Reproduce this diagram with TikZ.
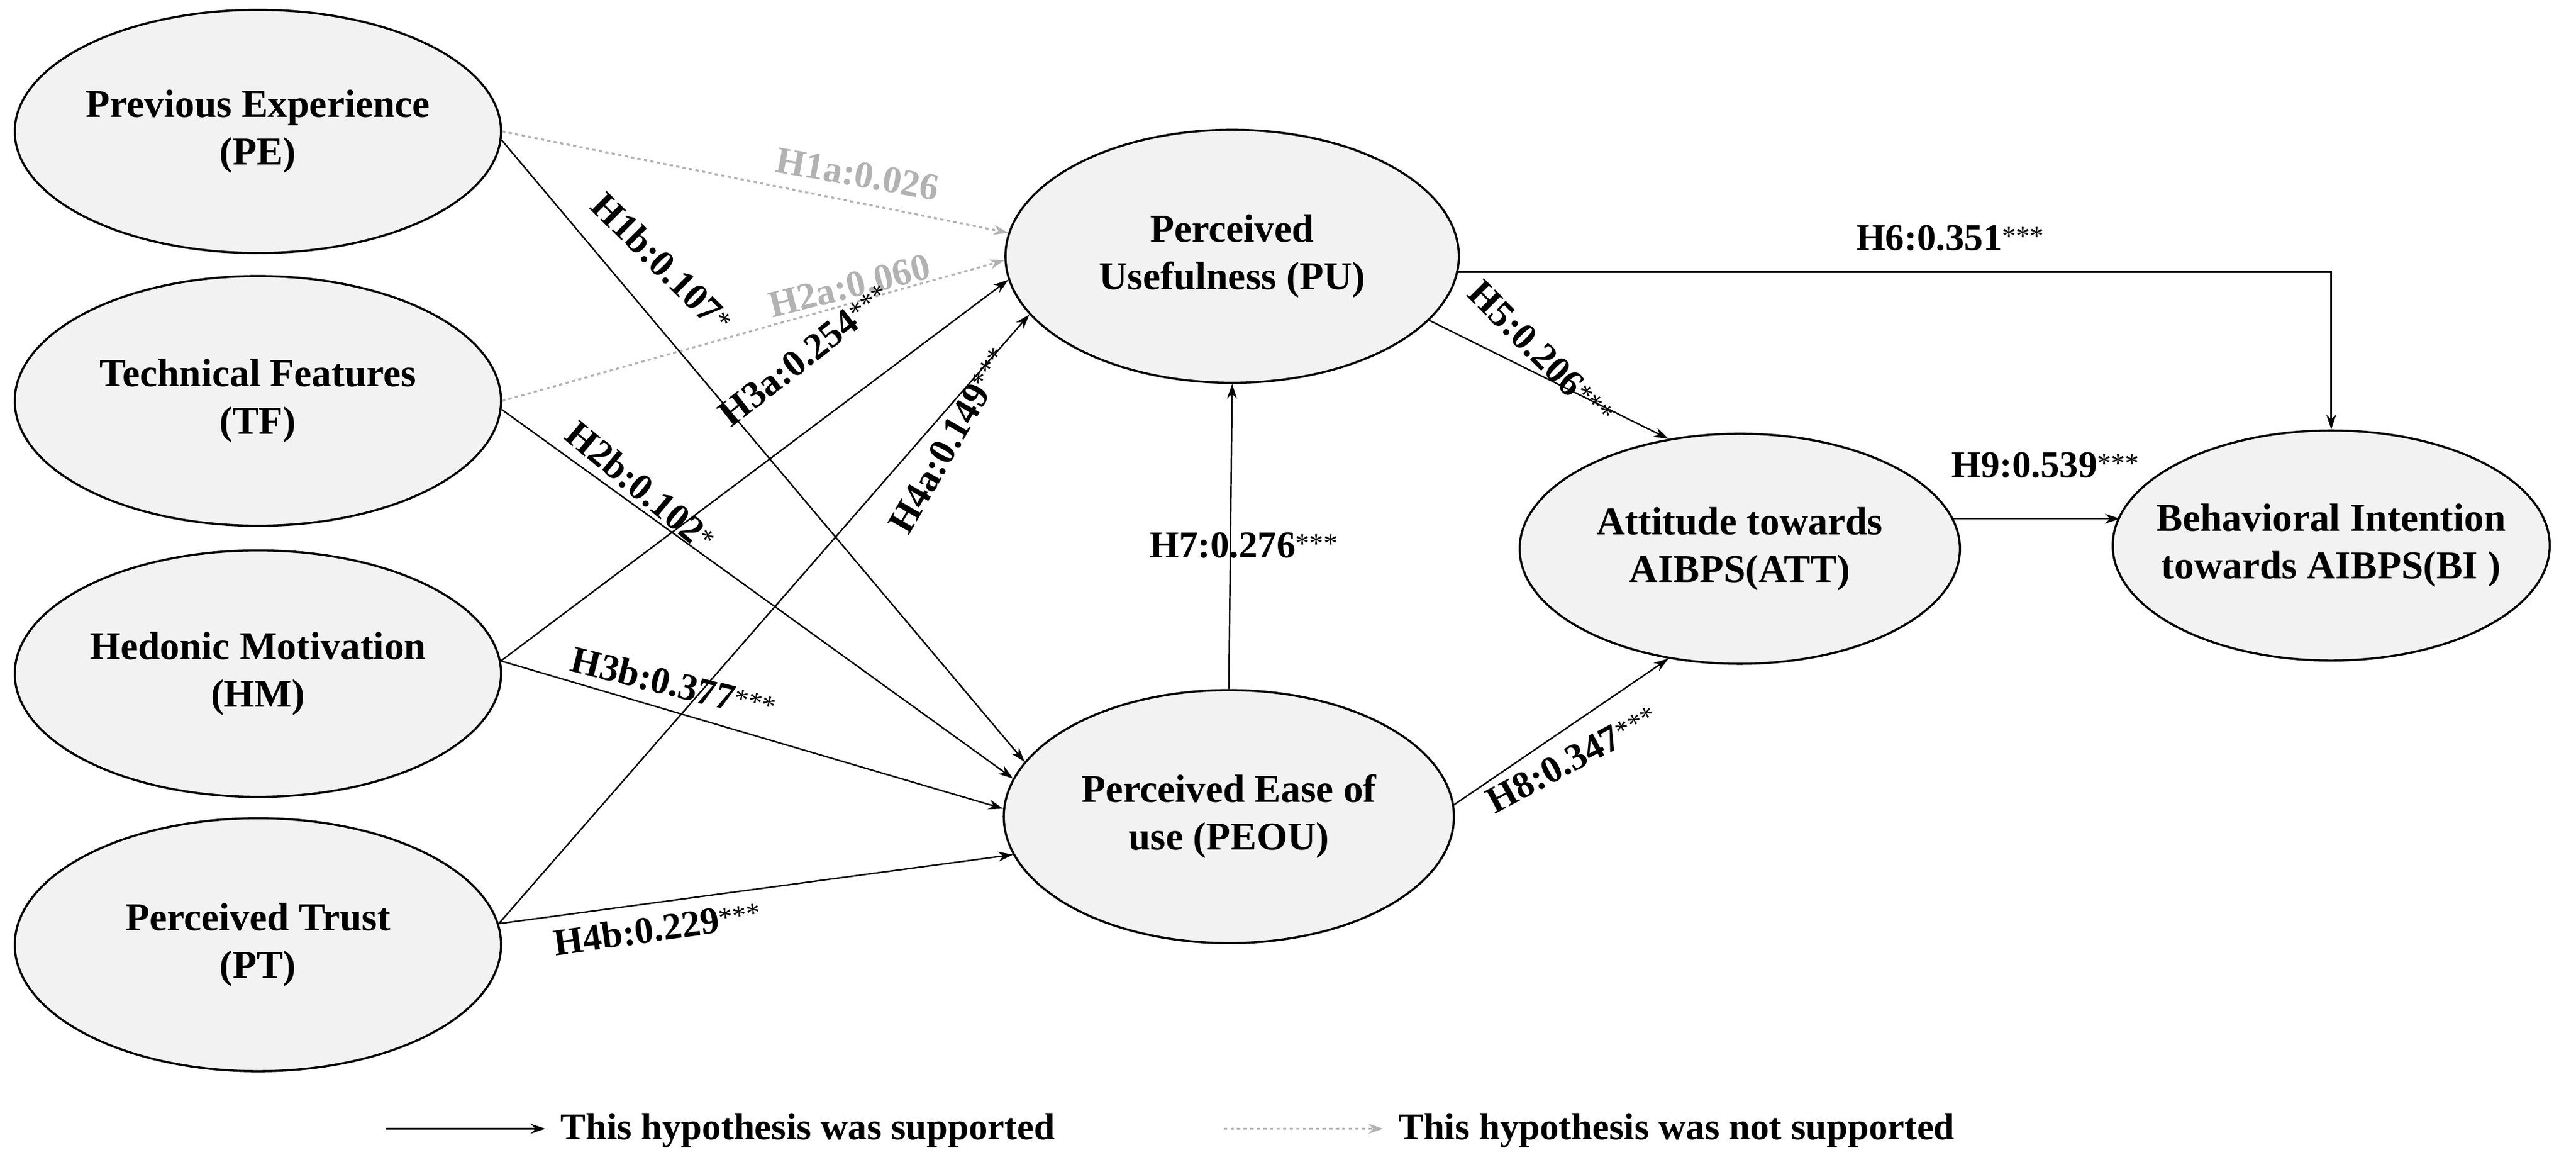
\documentclass[tikz,border=0pt]{standalone}
\usepackage{fontspec}
\setmainfont{Liberation Serif}
\usetikzlibrary{shapes.geometric,arrows.meta}
\newcommand{\st}[1]{\raisebox{3pt}{\mdseries\fontsize{17}{20}\selectfont #1}}
\newcommand{\tx}[2]{\makebox[0pt]{\begin{tabular}{@{}c@{}}#1\\#2\end{tabular}}}
\begin{document}
\begin{tikzpicture}[x=1pt,y=-1pt,
  ell/.style={ellipse,draw,line width=1.3pt,fill=gray!10,inner sep=0pt,minimum width=296pt,minimum height=148pt,font=\fontsize{24}{29}\selectfont\bfseries},
  sup/.style={-{Stealth[length=9pt,width=6pt]},line width=0.9pt},
  nsup/.style={-{Stealth[length=9pt,width=6pt]},line width=1.2pt,gray!60,dash pattern=on 2pt off 2pt},
  lab/.style={font=\fontsize{23}{27}\selectfont\bfseries,inner sep=1pt},
  glab/.style={lab,gray!60}]
\useasboundingbox (0,0) rectangle (1568,710);
\node[ell] (PE) at (157,80) {\tx{Previous Experience}{(PE)}};
\node[ell,minimum height=152pt] (TF) at (157,244) {\tx{Technical Features}{(TF)}};
\node[ell,minimum height=150pt] (HM) at (157,410) {\tx{Hedonic Motivation}{(HM)}};
\node[ell,minimum height=154pt] (PT) at (157,575) {\tx{Perceived Trust}{(PT)}};
\node[ell,minimum width=276pt,minimum height=154pt] (PU) at (750,156) {\tx{Perceived}{Usefulness (PU)}};
\node[ell,minimum width=274pt,minimum height=154pt] (PEOU) at (748,497) {\tx{Perceived Ease of}{use (PEOU)}};
\node[ell,minimum width=268pt,minimum height=140pt] (ATT) at (1059,334) {\tx{Attitude towards}{AIBPS(ATT)}};
\node[ell,minimum width=266pt,minimum height=140pt] (BI) at (1419,332) {\tx{Behavioral Intention}{towards AIBPS(BI )}};

\draw[nsup] (PE.east) -- (PU.174);
\draw[nsup] (TF.east) -- (PU.181);
\draw[sup] (PE.-2) -- (PEOU.165);
\draw[sup] (TF.-2) -- (PEOU.170);
\draw[sup] (HM.3) -- (PU.186);
\draw[sup] (HM.3) -- (PEOU.178);
\draw[sup] (PT.5) -- (PU.196);
\draw[sup] (PT.5) -- (PEOU.190);
\draw[sup] (PEOU.north) -- (PU.south);
\draw[sup] (PU.-18) -- (ATT.123);
\draw[sup] (PEOU.3) -- (ATT.237);
\draw[sup] (PU.-4) -| (BI.north);
\draw[sup,shorten >=-5pt] (ATT.8) -- (ATT.8 -| BI.west);

\node[glab,rotate=-10] (l1a) at (522,106) {H1a:0.026};
\node[glab,rotate=14] (l2a) at (517,174) {H2a:0.060};
\node[lab,rotate=-45] (l1b) at (403,160) {H1b:0.107\st{*}};
\node[lab,rotate=38] (l3a) at (490,216) {H3a:0.254\st{***}};
\node[lab,rotate=-40] (l2b) at (390,296) {H2b:0.102\st{*}};
\node[lab,rotate=60] (l4a) at (578,268) {H4a:0.149\st{***}};
\node[lab,rotate=-14] (l3b) at (410,416) {H3b:0.377\st{***}};
\node[lab,rotate=8] (l4b) at (400,565) {H4b:0.229\st{***}};
\node[lab] (l7) at (757,332) {H7:0.276\st{***}};
\node[lab,rotate=-45] (l5) at (938,215) {H5:0.206\st{***}};
\node[lab,rotate=28] (l8) at (957,462) {H8:0.347\st{***}};
\node[lab] (l6) at (1187,145) {H6:0.351\st{***}};
\node[lab] (l9) at (1245,283) {H9:0.539\st{***}};

\coordinate (a1) at (235,687); \coordinate (a2) at (332,687);
\coordinate (b1) at (745,687); \coordinate (b2) at (842,687);
\draw[sup] (a1) -- (a2);
\draw[nsup] (b1) -- (b2);
\node[lab,anchor=west] (t1) at (340,688) {This hypothesis was supported};
\node[lab,anchor=west] (t2) at (850,688) {This hypothesis was not supported};
\end{tikzpicture}
\end{document}
